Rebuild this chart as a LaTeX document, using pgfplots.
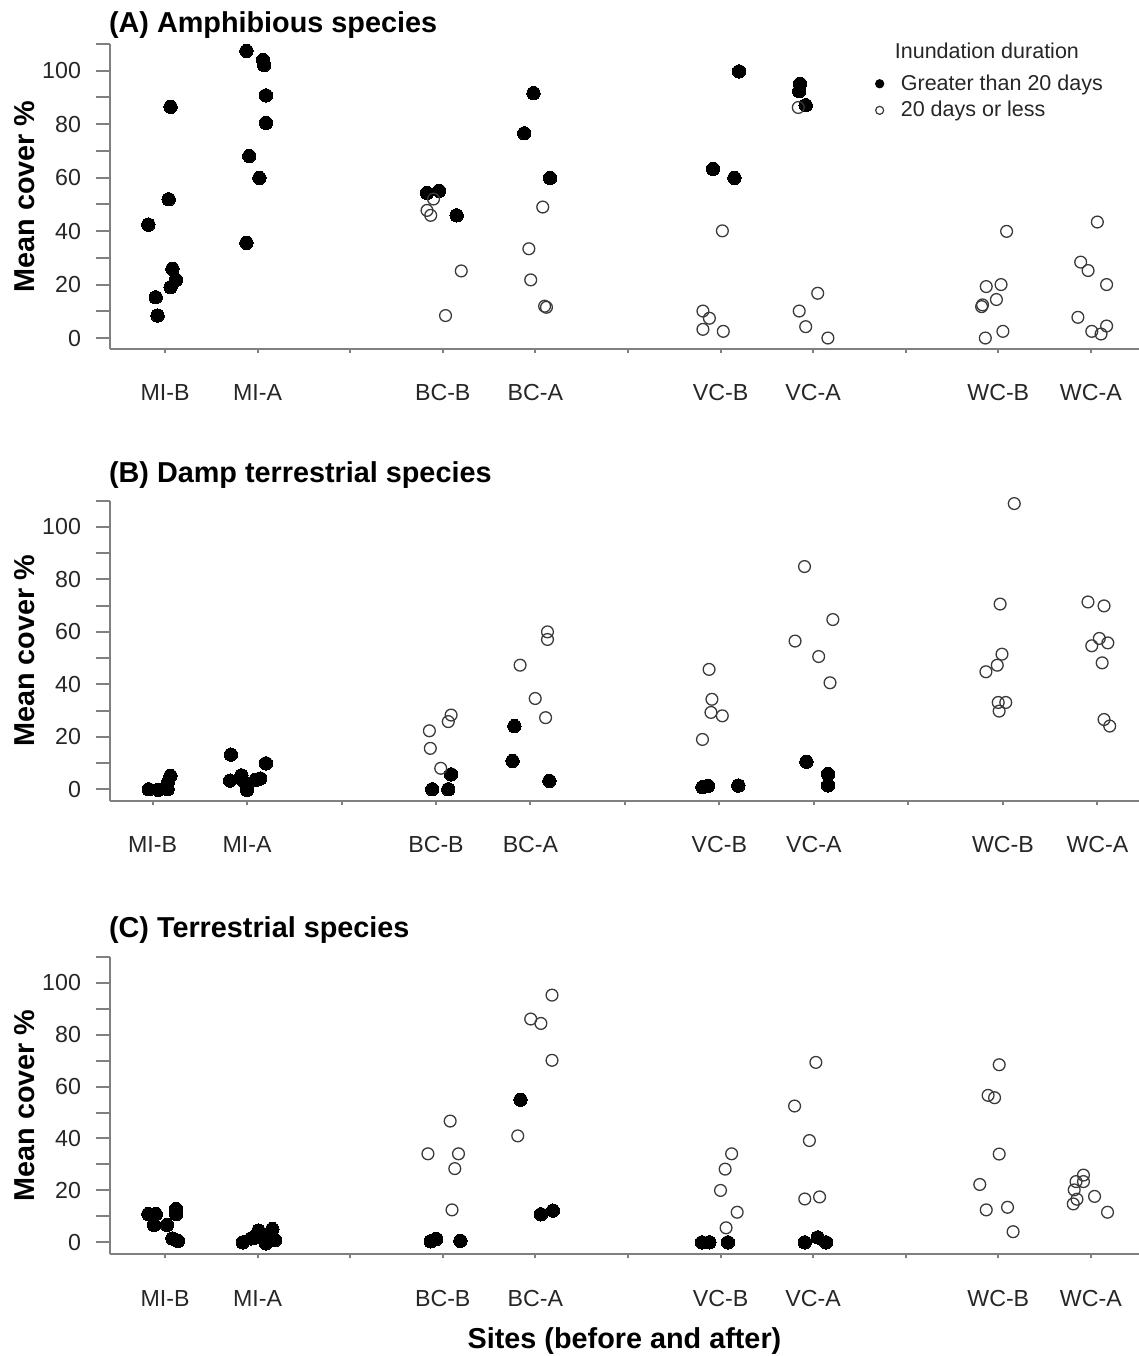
\documentclass[border=0pt]{standalone}
\usepackage{fontspec}
\setmainfont{Liberation Sans}
\usepackage{pgfplots}
\pgfplotsset{compat=1.18}
\usepackage{pgfplotstable}

\definecolor{axgray}{HTML}{808080}
\definecolor{labgray}{HTML}{262626}
\definecolor{opengray}{HTML}{3A3A3A}

% Panel A
\pgfplotstableread{
x y
0.82 42.4
1.06 86.5
1.04 51.9
1.08 25.9
1.12 21.75
1.06 19
0.90 15.25
0.92 8.4
1.88 107.4
2.06 104
2.07 102.1
2.09 90.75
2.09 80.5
1.91 68.1
2.02 59.9
1.88 35.6
3.83 54.25
3.96 55.1
4.15 45.9
4.88 76.6
4.98 91.6
5.16 59.9
7.20 99.75
6.92 63.25
7.15 59.9
7.86 95.1
7.85 92.4
7.92 87.1
}\Afill
\pgfplotstableread{
x y
3.90 52
3.83 47.75
3.87 45.9
4.20 25.1
4.03 8.4
5.08 49
4.93 33.4
4.95 21.75
5.10 11.9
5.12 11.5
7.02 40.1
6.81 10.1
6.88 7.4
6.81 3.25
7.03 2.5
7.84 86.25
8.05 16.75
7.85 10.1
7.92 4.25
8.16 0
10.09 39.9
9.87 19.25
10.03 20
9.98 14.4
9.83 12.4
9.82 11.75
10.05 2.5
9.86 0
11.07 43.4
10.89 28.4
10.97 25.25
11.17 20
10.86 7.75
11.01 2.5
11.17 4.5
11.11 1.5
}\Aopen
% Panel B
\pgfplotstableread{
x y
0.96 0
1.06 -0.2
1.16 0
1.16 2.3
1.19 5.1
1.83 13.2
1.82 3.3
1.94 5.3
1.95 3.6
2.00 -0.2
2.09 3.6
2.14 4.1
2.20 9.9
3.96 0
4.13 0
4.16 5.7
4.83 24.1
4.81 10.8
5.20 3.2
6.82 0.8
6.88 1.3
7.20 1.4
7.92 10.5
8.15 5.8
8.15 1.5
}\Bfill
\pgfplotstableread{
x y
3.93 22.3
3.94 15.6
4.05 8.0
4.13 25.8
4.16 28.3
4.89 47.3
5.05 34.6
5.16 27.3
5.18 60
5.18 57.1
6.89 45.7
6.92 34.3
6.91 29.3
7.03 28.0
6.82 19.0
7.90 84.9
8.20 64.7
7.80 56.5
8.05 50.6
8.17 40.6
10.12 108.9
9.97 70.6
9.99 51.5
9.94 47.3
9.82 44.8
9.95 33.1
10.03 33.1
9.96 29.8
10.90 71.4
11.07 69.9
11.02 57.5
10.94 54.7
11.11 55.8
11.05 48.2
11.07 26.6
11.13 24.1
}\Bopen
% Panel C
\pgfplotstableread{
x y
0.82 10.9
0.90 10.9
0.88 6.7
1.02 6.7
1.12 12.8
1.12 10.9
1.08 1.5
1.14 0.6
1.84 0
1.93 1.5
1.98 1.9
2.01 4.5
2.09 -0.4
2.11 2.2
2.16 5.1
2.19 0.9
3.87 0.4
3.93 1.3
4.19 0.6
4.84 54.9
5.06 10.8
5.19 12.2
6.80 0
6.88 0
7.08 0
7.91 0
8.05 1.9
8.14 0
}\Cfill
\pgfplotstableread{
x y
3.84 34.1
4.08 46.7
4.17 34.1
4.13 28.4
4.10 12.5
5.18 95.2
4.95 86
5.06 84.3
5.18 70.1
4.81 41
7.12 34.1
7.05 28.2
7.00 20
7.18 11.6
7.06 5.6
8.03 69.3
7.80 52.5
7.96 39.2
8.07 17.5
7.91 16.7
10.01 68.4
9.89 56.6
9.96 55.7
10.01 34
9.80 22.3
9.87 12.5
10.10 13.5
10.16 4.1
10.92 25.9
10.84 23.4
10.92 23.4
10.82 20.2
10.85 16.6
10.81 14.8
11.04 17.7
11.18 11.6
}\Copen

\pgfplotsset{
  panel/.style={
    scale only axis,
    width=514.5pt,
    anchor=south west,
    ymax=110,
    axis x line*=bottom,
    axis y line*=left,
    axis line style={draw=axgray, line width=1pt},
    tick style={draw=axgray, line width=1pt},
    tick align=outside,
    major tick length=7pt,
    ytick={0,10,...,110},
    yticklabels={0,,20,,40,,60,,80,,100,},
    xtick={1,...,11},
    xticklabels={MI-B,MI-A,,BC-B,BC-A,,VC-B,VC-A,,WC-B,WC-A},
    xtick style={/pgfplots/major tick length=2pt},
    ticklabel style={font=\fontsize{11.6}{13}\selectfont, text=labgray},
    xticklabel style={anchor=base, yshift=-19pt},
    yticklabel style={xshift=-4pt},
    /pgf/number format/assume math mode=true,
    ylabel={Mean cover \%},
    ylabel style={font=\fontsize{14.4}{16}\selectfont\bfseries, at={(axis description cs:-0.0826,0.5)}, anchor=center},
    title style={at={(axis description cs:0,1)}, anchor=base west, font=\fontsize{14.4}{16}\selectfont\bfseries, xshift=-4pt},
    clip=false,
  },
  fillpt/.style={only marks, mark=*, mark size=3.35pt, mark options={fill=black, draw=black, line width=0pt}, forget plot},
  openpt/.style={only marks, mark=o, mark size=2.95pt, mark options={draw=opengray, line width=0.65pt}, forget plot},
}

\begin{document}
\begin{tikzpicture}
\useasboundingbox (0,0) rectangle (569.5pt,678pt);

% Panel A
\begin{axis}[panel,
  at={(55pt,503.5pt)}, height=152.5pt,
  xmin=0.406, xmax=11.52, ymin=-4.1,
  title={(A) Amphibious species},
  title style={yshift=-0.5pt},
  legend style={draw=none, fill=none, font=\fontsize{10.75}{12}\selectfont, text=labgray,
    at={(rel axis cs:0.731,1.018)}, anchor=north west, row sep=0pt, inner sep=0pt,
    /tikz/every odd column/.append style={column sep=6.5pt}},
  legend cell align=left,
]
\addplot[fillpt] table {\Afill};
\addplot[openpt] table {\Aopen};
\addlegendimage{empty legend}
\addlegendentry{\hspace*{-3pt}\raisebox{2.5pt}{Inundation duration}}
\addlegendimage{only marks, mark=*, mark size=2.1pt, mark options={fill=black, draw=black}}
\addlegendentry{Greater than 20 days}
\addlegendimage{only marks, mark=o, mark size=2pt, mark options={draw=opengray, line width=0.6pt}}
\addlegendentry{20 days or less}
\end{axis}

% Panel B
\begin{axis}[panel,
  at={(55pt,277.5pt)}, height=150.15pt,
  xmin=0.55, xmax=11.44, ymin=-4.46,
  title={(B) Damp terrestrial species},
  title style={yshift=3pt},
]
\addplot[fillpt] table {\Bfill};
\addplot[openpt] table {\Bopen};
\end{axis}

% Panel C
\begin{axis}[panel,
  at={(55pt,50.85pt)}, height=148.8pt,
  xmin=0.406, xmax=11.52, ymin=-4.6,
  title={(C) Terrestrial species},
  title style={yshift=3.7pt},
  xlabel={Sites (before and after)},
  xlabel style={font=\fontsize{14.4}{16}\selectfont\bfseries, at={(axis description cs:0.5,0)}, anchor=base, yshift=-47pt},
]
\addplot[fillpt] table {\Cfill};
\addplot[openpt] table {\Copen};
\end{axis}
\end{tikzpicture}
\end{document}
